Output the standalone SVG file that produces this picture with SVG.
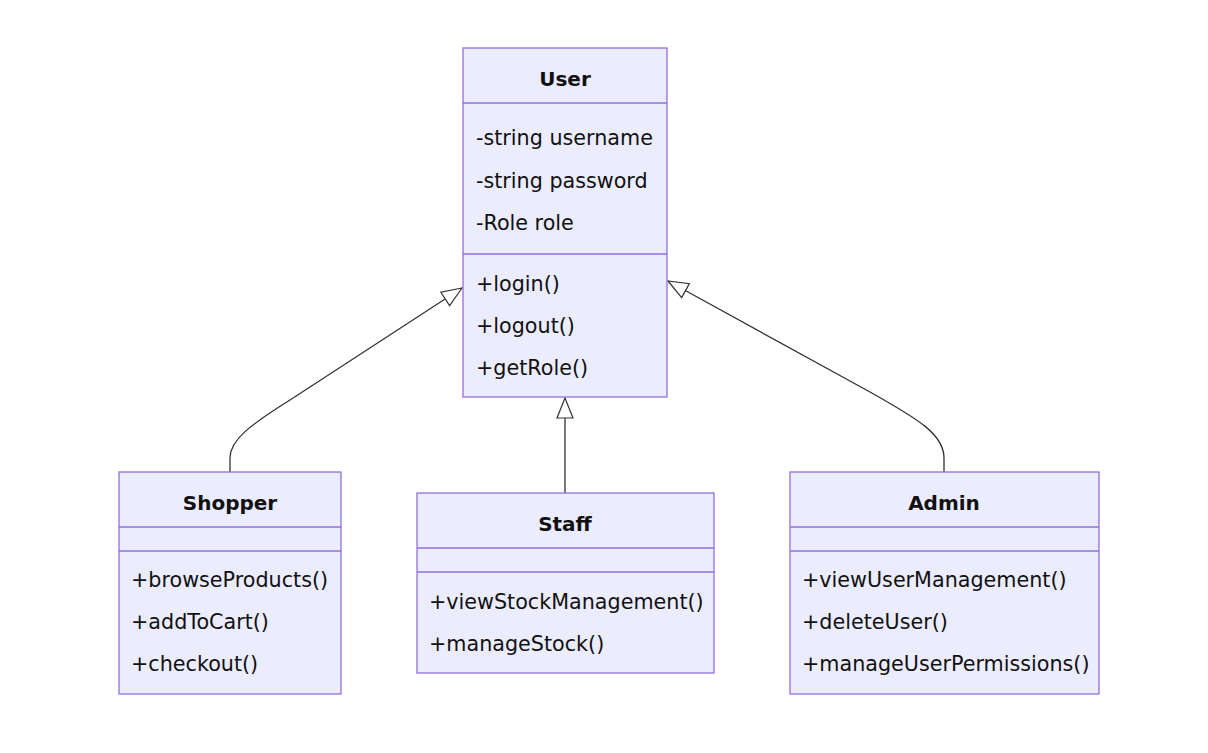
<svg xmlns="http://www.w3.org/2000/svg" width="1208" height="753" viewBox="0 0 1208 753">
<style>
.box{fill:#ECECFF;stroke:#9370DB;stroke-width:1.3}
.div{stroke:#9370DB;stroke-width:1.3}
.t{font-family:"DejaVu Sans",Verdana,sans-serif;font-size:20.7px;fill:#111}
.h{font-weight:bold;text-anchor:middle;font-size:20px}
.e{fill:none;stroke:#333;stroke-width:1.3}
</style>
<defs>
<marker id="ext" markerWidth="24" markerHeight="20" refX="21" refY="9" orient="auto" markerUnits="userSpaceOnUse">
<path d="M21,9 L1,1 L1,17 Z" fill="#fff" stroke="#333" stroke-width="1.2"/>
</marker>
</defs>
<rect width="1208" height="753" fill="#fff"/>
<g id="connectors">
<path class="e" d="M230,472 L230,458 C230,440 250,425 290,400 L462,288" marker-end="url(#ext)"/>
<path class="e" d="M565,493 L565,398" marker-end="url(#ext)"/>
<path class="e" d="M944,472 L944,458 C944,435 920,420 870,392 L668,281" marker-end="url(#ext)"/>
</g>
<g id="User">
<rect class="box" x="463" y="48" width="204" height="349"/>
<line class="div" x1="463" y1="103" x2="667" y2="103"/>
<line class="div" x1="463" y1="254" x2="667" y2="254"/>
<text class="t h" x="565" y="86">User</text>
<text class="t" x="476" y="145">-string username</text>
<text class="t" x="476" y="188">-string password</text>
<text class="t" x="476" y="230">-Role role</text>
<text class="t" x="476" y="291">+login()</text>
<text class="t" x="476" y="333">+logout()</text>
<text class="t" x="476" y="375">+getRole()</text>
</g>
<g id="Shopper">
<rect class="box" x="119" y="472" width="222" height="222"/>
<line class="div" x1="119" y1="527" x2="341" y2="527"/>
<line class="div" x1="119" y1="551" x2="341" y2="551"/>
<text class="t h" x="230" y="510">Shopper</text>
<text class="t" x="131" y="587">+browseProducts()</text>
<text class="t" x="131" y="629">+addToCart()</text>
<text class="t" x="131" y="671">+checkout()</text>
</g>
<g id="Staff">
<rect class="box" x="417" y="493" width="297" height="180"/>
<line class="div" x1="417" y1="548" x2="714" y2="548"/>
<line class="div" x1="417" y1="572" x2="714" y2="572"/>
<text class="t h" x="565" y="531">Staff</text>
<text class="t" x="429" y="609">+viewStockManagement()</text>
<text class="t" x="429" y="651">+manageStock()</text>
</g>
<g id="Admin">
<rect class="box" x="790" y="472" width="309" height="222"/>
<line class="div" x1="790" y1="527" x2="1099" y2="527"/>
<line class="div" x1="790" y1="551" x2="1099" y2="551"/>
<text class="t h" x="944" y="510">Admin</text>
<text class="t" x="802" y="587">+viewUserManagement()</text>
<text class="t" x="802" y="629">+deleteUser()</text>
<text class="t" x="802" y="671">+manageUserPermissions()</text>
</g>
</svg>
